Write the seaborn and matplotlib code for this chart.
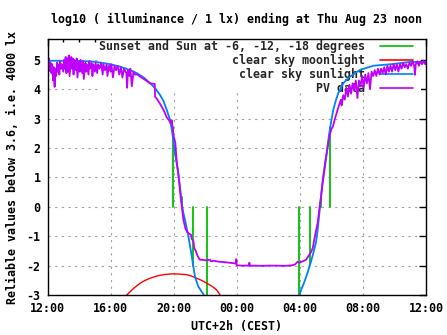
import numpy as np
import pandas as pd
import matplotlib
matplotlib.use("Agg")
import matplotlib.pyplot as plt
from matplotlib.lines import Line2D
from matplotlib.patches import Rectangle
import seaborn as sns

# ---------------- data (hours after Wed 12:00 CEST) ----------------
x_ticks = [0, 4, 8, 12, 16, 20, 24]
x_tick_labels = ["12:00", "16:00", "20:00", "00:00", "04:00", "08:00", "12:00"]
y_ticks = [-3, -2, -1, 0, 1, 2, 3, 4, 5]

# sunset / sun at -6, -12, -18 degrees (impulses from 0 to clear-sky level)
sun_event_h = [7.98, 8.50, 9.25, 10.10, 15.92, 16.66, 17.32, 17.92]
sun_event_v = [2.7, 0.35, -2.0, -3.4, -3.4, -1.95, 0.30, 2.7]

# clear sky moonlight
moon_h = [5.02, 5.45, 5.87, 6.20, 6.50, 6.90, 7.34, 7.65, 7.98, 8.40, 8.83, 9.15, 9.46, 9.80, 10.10, 10.45, 10.73, 10.94]
moon_v = [-3.00, -2.78, -2.60, -2.50, -2.43, -2.36, -2.31, -2.29, -2.28, -2.29, -2.31, -2.36, -2.43, -2.51, -2.60, -2.71, -2.83, -3.00]

# clear sky sunlight
sunl_h = [0.0, 1.0, 2.0, 2.7, 3.33, 4.0, 4.6, 5.2, 5.66, 6.1, 6.5, 6.85, 7.13, 7.35, 7.56,
          7.77, 7.88, 7.98, 8.08, 8.29, 8.40, 8.51, 8.61, 8.72, 8.93, 9.08, 9.21, 9.35, 9.56,
          9.88, 10.5, 15.6, 15.97, 16.10, 16.22, 16.41, 16.66, 16.82, 17.03, 17.13, 17.24,
          17.34, 17.45, 17.60, 17.70, 17.85, 18.0, 18.12, 18.30, 18.44, 18.76, 19.18, 19.82,
          20.66, 21.93, 23.0, 24.0]
sunl_v = [4.97, 4.97, 4.96, 4.95, 4.91, 4.85, 4.77, 4.66, 4.55, 4.40, 4.21, 4.02, 3.81, 3.60, 3.30,
          2.96, 2.62, 2.28, 1.84, 1.16, 0.69, 0.13, -0.20, -0.44, -1.00, -1.46, -1.90, -2.37, -2.71,
          -2.97, -3.60, -3.60, -3.00, -2.80, -2.65, -2.37, -1.95, -1.65, -1.20, -0.78, -0.20,
          0.35, 0.92, 1.50, 1.83, 2.45, 2.95, 3.30, 3.65, 3.87, 4.21, 4.43, 4.66,
          4.80, 4.86, 4.93, 4.93]

# PV data
pv_h = [0.00, 0.05, 0.10, 0.15, 0.20, 0.25, 0.30, 0.35, 0.40, 0.45, 0.50, 0.55, 0.60, 0.65, 0.70,
        0.75, 0.80, 0.85, 0.90, 1.00, 1.05, 1.10, 1.15, 1.20, 1.25, 1.30, 1.35, 1.40, 1.50, 1.55,
        1.60, 1.65, 1.70, 1.80, 1.85, 1.90, 2.00, 2.05, 2.10, 2.20, 2.25, 2.30, 2.40, 2.45, 2.50,
        2.60, 2.65, 2.70, 2.80, 2.85, 2.90, 3.00, 3.05, 3.15, 3.20, 3.30, 3.40, 3.50, 3.55, 3.65,
        3.75, 3.80, 3.90, 4.00, 4.05, 4.15, 4.25, 4.35, 4.45, 4.55, 4.65, 4.75, 4.85, 5.00, 5.05,
        5.10, 5.20, 5.25, 5.35, 5.45, 5.55, 5.70, 5.90, 6.10, 6.30, 6.50, 6.65, 6.80, 6.82, 6.90,
        7.00, 7.20, 7.40, 7.55, 7.70, 7.80, 7.88, 7.95, 8.00, 8.10, 8.20, 8.30, 8.42, 8.52, 8.62,
        8.75, 8.85, 8.95, 9.10, 9.15, 9.25, 9.30, 9.40, 9.50, 9.60, 9.67, 9.80, 10.00, 10.30, 10.35,
        10.60, 10.90, 11.20, 11.50, 11.80, 11.95, 11.97, 12.00, 12.30, 12.75, 12.80, 12.85, 13.20, 13.60, 14.00,
        14.50, 15.00, 15.50, 15.70, 15.85, 16.00, 16.20, 16.40, 16.55, 16.70, 16.82, 16.92, 17.03, 17.13, 17.20,
        17.27, 17.35, 17.42, 17.50, 17.60, 17.70, 17.80, 17.90, 18.00, 18.10, 18.20, 18.30, 18.45, 18.60, 18.65,
        18.75, 18.85, 18.95, 19.05, 19.15, 19.25, 19.35, 19.45, 19.55, 19.65, 19.75, 19.85, 19.95, 20.05, 20.15,
        20.25, 20.35, 20.45, 20.55, 20.65, 20.75, 20.85, 20.95, 21.05, 21.15, 21.25, 21.35, 21.45, 21.55, 21.65,
        21.75, 21.85, 21.95, 22.05, 22.15, 22.25, 22.35, 22.45, 22.55, 22.65, 22.75, 22.85, 22.95, 23.05, 23.15,
        23.25, 23.30, 23.35, 23.45, 23.55, 23.65, 23.75, 23.85, 23.95, 24.00]
pv_v = [4.95, 4.70, 5.05, 4.62, 4.90, 4.55, 4.85, 4.30, 4.75, 4.08, 4.70, 4.45, 4.90, 4.60, 4.85,
        4.50, 4.95, 4.70, 4.85, 4.60, 5.00, 4.70, 5.10, 4.55, 5.05, 4.60, 5.15, 4.45, 5.10, 4.70,
        5.05, 4.50, 5.00, 4.65, 5.05, 4.40, 4.95, 4.60, 5.00, 4.55, 4.95, 4.35, 4.90, 4.60, 4.85,
        4.50, 4.95, 4.70, 4.90, 4.45, 4.85, 4.60, 4.90, 4.55, 4.85, 4.70, 4.90, 4.50, 4.85, 4.65,
        4.85, 4.45, 4.80, 4.60, 4.85, 4.40, 4.80, 4.65, 4.80, 4.50, 4.75, 4.40, 4.70, 4.55, 4.05,
        4.65, 4.45, 4.70, 4.10, 4.60, 4.50, 4.50, 4.42, 4.35, 4.28, 4.20, 4.19, 4.18, 3.75, 3.70,
        3.62, 3.45, 3.25, 3.05, 2.95, 2.85, 2.95, 2.60, 2.40, 2.20, 1.50, 1.10, 0.45, 0.00, -0.45,
        -0.75, -0.85, -0.90, -0.95, -1.10, -1.15, -1.40, -1.50, -1.65, -1.75, -1.80, -1.80, -1.82, -1.80, -1.85,
        -1.84, -1.87, -1.88, -1.90, -1.92, -1.93, -1.78, -1.99, -2.00, -2.00, -1.90, -2.01, -2.00, -2.01, -2.00,
        -2.00, -2.01, -1.99, -1.96, -1.87, -1.90, -1.85, -1.80, -1.67, -1.55, -1.40, -1.10, -0.80, -0.55, -0.25,
        0.05, 0.35, 0.70, 1.00, 1.40, 1.80, 2.15, 2.45, 2.65, 2.73, 2.95, 3.13, 3.40, 3.64, 3.45,
        3.80, 3.65, 4.05, 3.75, 4.15, 3.85, 4.20, 3.95, 4.30, 3.70, 4.30, 4.10, 4.45, 4.05, 4.50,
        4.20, 4.55, 4.00, 4.60, 4.45, 4.65, 4.45, 4.70, 4.50, 4.70, 4.55, 4.75, 4.50, 4.80, 4.60,
        4.80, 4.60, 4.85, 4.65, 4.85, 4.60, 4.85, 4.70, 4.90, 4.75, 4.85, 4.70, 4.90, 4.80, 4.95,
        4.80, 4.49, 4.85, 4.95, 4.80, 4.95, 4.85, 4.97, 4.85, 4.90]

title = "log10 ( illuminance / 1 lx) ending at Thu Aug 23 noon"
ylabel = "Reliable values below 3.6, i.e. 4000 lx"
xlabel = "UTC+2h (CEST)"
legend_labels = ["Sunset and Sun at -6, -12, -18 degrees", "clear sky moonlight",
                 "clear sky sunlight", "PV data"]

# ---------------- styling ----------------
GREEN, RED, BLUE, PURPLE = "#00c000", "#ff0000", "#0080ff", "#c000ff"
sns.set_theme(style="white")
plt.rcParams["font.family"] = ["DejaVu Sans Mono", "DejaVu Sans"]
plt.rcParams["font.weight"] = "bold"
FS = 8.4

W, H = 447, 335
fig = plt.figure(figsize=(W / 100, H / 100), dpi=100)
L, R, T, B = 47.5, 426.0, 39.0, 295.0
ax = fig.add_axes([L / W, 1 - B / H, (R - L) / W, (B - T) / H])

# green impulses
ev_rows = []
for i, (h, v) in enumerate(zip(sun_event_h, sun_event_v)):
    ev_rows.append({"h": h, "v": 0.0, "ev": i})
    ev_rows.append({"h": h, "v": float(v), "ev": i})
ev_df = pd.DataFrame(ev_rows)
sns.lineplot(data=ev_df, x="h", y="v", units="ev", estimator=None, sort=False,
             color=GREEN, lw=1.3, ax=ax, legend=False, zorder=2)

sns.lineplot(x=moon_h, y=moon_v, estimator=None, sort=False, color=RED, lw=1.0, ax=ax, zorder=2.1)
sns.lineplot(x=sunl_h, y=sunl_v, estimator=None, sort=False, color=BLUE, lw=1.3, ax=ax, zorder=2.2)
sns.lineplot(x=pv_h, y=pv_v, estimator=None, sort=False, color=PURPLE, lw=1.3, ax=ax, zorder=2.3)

ax.set_xlim(0, 24)
ax.set_ylim(-3, 5.71)
ax.set_xticks(x_ticks)
ax.set_xticklabels(x_tick_labels)
ax.set_xticks(np.arange(0, 25, 1), minor=True)
ax.set_yticks(y_ticks)
ax.set_yticklabels([str(t) for t in y_ticks])
ax.set_xlabel("")
ax.set_ylabel("")

for lab in ax.get_xticklabels() + ax.get_yticklabels():
    lab.set_fontsize(FS)
    lab.set_fontweight("bold")
    lab.set_color("black")

ax.tick_params(which="major", direction="in", top=True, right=True, length=5, width=1,
               color="black")
ax.tick_params(which="minor", direction="in", top=True, right=True, length=2.5, width=1,
               color="black")
ax.tick_params(axis="x", which="major", pad=5)
ax.tick_params(axis="y", which="major", pad=5)

for s in ax.spines.values():
    s.set_color("black")
    s.set_linewidth(1.0)

ax.set_axisbelow(True)
ax.grid(True, which="major", color="#a0a0a0", lw=0.8, linestyle=(0, (2.0, 4.0)))
ax.grid(False, which="minor")

# opaque key box
ax.add_patch(Rectangle(((98 - L) / (R - L), (B - 92) / (B - T)), (421 - 98) / (R - L),
                       1.0 - (B - 92) / (B - T), transform=ax.transAxes,
                       facecolor="white", edgecolor="none", zorder=1.5))

handles = [Line2D([], [], color=c, lw=1.2) for c in (GREEN, RED, BLUE, PURPLE)]
leg = ax.legend(handles, legend_labels, loc="upper right",
                bbox_to_anchor=((413 - L) / (R - L), (B - 40) / (B - T)),
                frameon=False, markerfirst=False, handlelength=2.85, handletextpad=1.3,
                labelspacing=0.07, borderpad=0, borderaxespad=0,
                prop={"family": "DejaVu Sans Mono", "weight": "bold", "size": FS})
leg.set_zorder(1.6)
for t in leg.get_texts():
    t.set_ha("right")

fig.text((L + R) / 2 / W, 1 - 19 / H, title, ha="center", va="center", fontsize=FS,
         fontweight="bold", color="black")
fig.text(13 / W, 1 - (T + B) / 2 / H, ylabel, ha="center", va="center", rotation=90,
         fontsize=FS, fontweight="bold", color="black")
fig.text((L + R) / 2 / W, 1 - 326.5 / H, xlabel, ha="center", va="center", fontsize=FS,
         fontweight="bold", color="black")

fig.savefig("out.png", dpi=100, facecolor="white")
